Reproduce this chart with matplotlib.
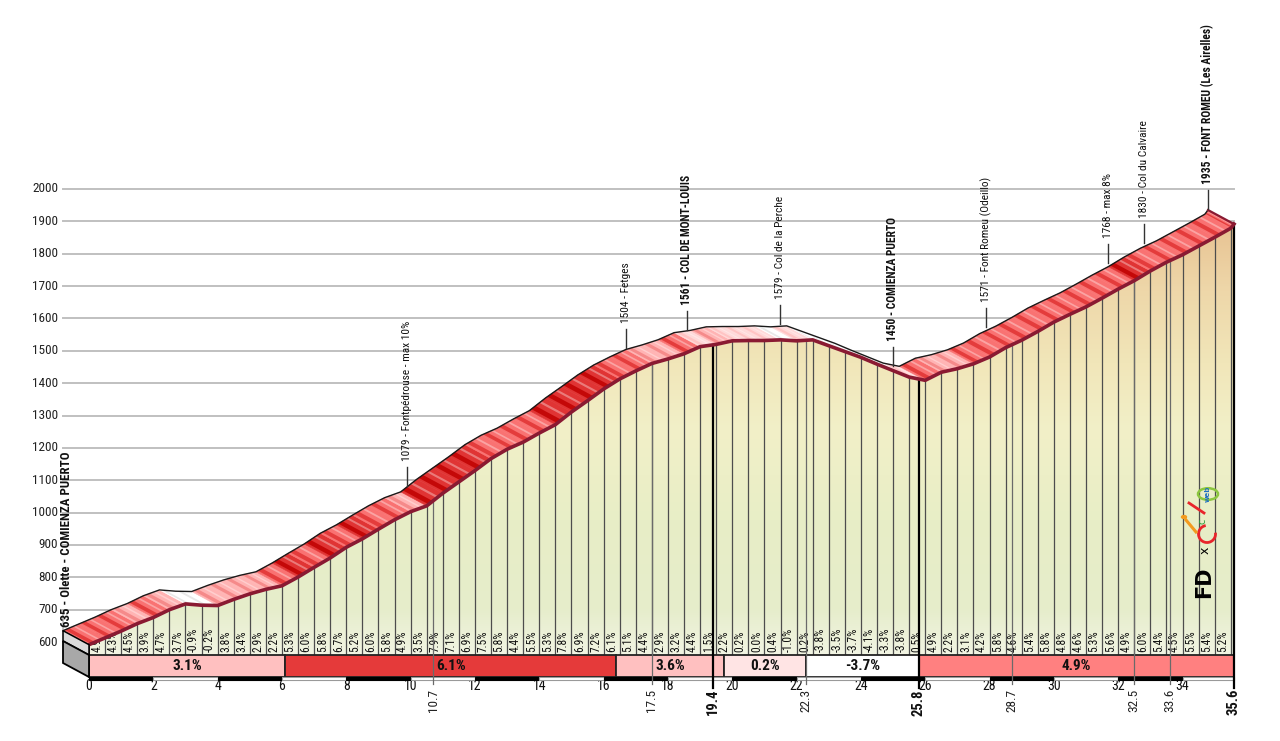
import numpy as np
import matplotlib
matplotlib.use('Agg')
import matplotlib.pyplot as plt
from matplotlib import font_manager as fm
from matplotlib.patches import Polygon, Rectangle, Circle, Arc
from matplotlib.colors import LinearSegmentedColormap
from matplotlib.lines import Line2D

# ---------------- data ----------------
km = list(np.arange(0, 35.51, 0.5)) + [35.6]
elev = [635, 656, 677, 700, 719, 743, 761, 757, 756, 775, 792, 806,
        817, 844, 874, 903, 936, 962, 992, 1021, 1046, 1064, 1103, 1138,
        1173, 1210, 1239, 1261, 1289, 1315, 1354, 1389, 1425, 1456, 1481, 1504,
        1518, 1534, 1556, 1563, 1574, 1575, 1575, 1577, 1574, 1577, 1559, 1541,
        1523, 1502, 1482, 1462, 1452, 1477, 1488, 1503, 1524, 1553, 1576, 1603,
        1632, 1656, 1679, 1706, 1734, 1760, 1790, 1817, 1840, 1867, 1894, 1922,
        1935]
grades = [4.9, 4.3, 4.5, 3.9, 4.7, 3.7, -0.9, -0.2, 3.8, 3.4, 2.9, 2.2,
          5.3, 6.0, 5.8, 6.7, 5.2, 6.0, 5.8, 4.9, 3.5, 7.9, 7.1, 6.9,
          7.5, 5.8, 4.4, 5.5, 5.3, 7.8, 6.9, 7.2, 6.1, 5.1, 4.4, 2.9,
          3.2, 4.4, 1.5, 2.2, 0.2, 0.0, 0.4, -1.0, 0.2, -3.8, -3.5, -3.7,
          -4.1, -3.3, -3.8, 0.5, 4.9, 2.2, 3.1, 4.2, 5.8, 4.6, 5.4, 5.8,
          4.8, 4.6, 5.3, 5.6, 4.9, 6.0, 5.4, 4.5, 5.5, 5.4, 5.2]
sect_bounds = [0, 6.1, 16.4, 19.75, 22.3, 25.8, 35.6]
sect_grades = [3.1, 6.1, 3.6, 0.2, -3.7, 4.9]
xticks = [0, 2, 4, 6, 8, 10, 12, 14, 16, 18, 20, 22, 24, 26, 28, 30, 32, 34]
yticks = [600, 700, 800, 900, 1000, 1100, 1200, 1300, 1400, 1500, 1600, 1700, 1800, 1900, 2000]
mark_km = [10.7, 17.5, 19.4, 22.3, 25.8, 28.7, 32.5, 33.6, 35.6]
mark_bold = [False, False, True, False, True, False, False, False, True]
ann_km = [0, 10.7, 17.5, 19.4, 22.3, 25.8, 28.7, 32.5, 33.6, 35.6]
ann_elev = [635, 1079, 1504, 1561, 1579, 1450, 1571, 1768, 1830, 1935]
ann_text = ["635 - Olette - COMIENZA PUERTO", "1079 - Fontpédrouse - max 10%",
            "1504 - Fetges", "1561 - COL DE MONT-LOUIS", "1579 - Col de la Perche",
            "1450 - COMIENZA PUERTO", "1571 - Font Romeu (Odeillo)", "1768 - max 8%",
            "1830 - Col du Calvaire", "1935 - FONT ROMEU (Les Airelles)"]
ann_bold = [True, False, False, True, False, True, False, False, False, True]

km = np.array(km)
elev = np.array(elev, dtype=float)

# ---------------- fonts ----------------
names = {f.name for f in fm.fontManager.ttflist}
STRETCH = 'normal'
FONT = None
for cand in ['Liberation Sans Narrow', 'Roboto Condensed', 'Open Sans Condensed', 'DejaVu Sans Condensed']:
    if cand in names:
        FONT = [cand, 'DejaVu Sans']
        break
if FONT is None:
    FONT = ['DejaVu Sans']
    STRETCH = 'condensed'
plt.rcParams['font.family'] = FONT
plt.rcParams['font.stretch'] = STRETCH

# ---------------- layout calibration ----------------
W, H = 1280, 741
PX0, PX1 = 89, 1234          # pixel x of km 0 and km 35.6
PY600, PY2000 = 642, 189     # pixel y (from top) of 600 m and 2000 m
ppk = (PX1 - PX0) / km[-1]
ppm = (PY600 - PY2000) / 1400.0
X0 = -PX0 / ppk
X1 = (W - PX0) / ppk
Y1 = 600 + PY600 / ppm
Y0 = 600 - (H - PY600) / ppm

def ypx(py):
    return 600 - (py - PY600) / ppm

DK = 26 / ppk     # perspective offset (km)
DZ = 14 / ppm     # perspective offset (m)
BASE = ypx(655)
BAR_BOT = ypx(677)
AX_BOT = ypx(680)

fig = plt.figure(figsize=(W / 100, H / 100), dpi=100)
ax = fig.add_axes([0, 0, 1, 1])
ax.axis('off')

front = elev - DZ

def gcol(g):
    if g < 0:
        return '#ffffff'
    if g < 2:
        return '#ffdada'
    if g < 4:
        return '#ffb4b4'
    if g < 6:
        return '#f97272'
    if g < 8:
        return '#e03434'
    return '#c00000'

def gdark(g):
    if g < 0:
        return '#e8e8e8'
    if g < 2:
        return '#ffc4c4'
    if g < 4:
        return '#f58a8a'
    if g < 6:
        return '#e43c3c'
    if g < 8:
        return '#c40808'
    return '#990000'

# gridlines & y labels
for v in yticks:
    ax.plot([-DK, km[-1]], [v, v], color='#c0c0c0', lw=1.4, zorder=1)
    ax.text(-DK - 5 / ppk, v, str(v), ha='right', va='center', fontsize=9.5,
            color='#222222', zorder=1)
ax.plot([-DK, -DK], [elev[0], 700], color='#c0c0c0', lw=1.3, zorder=1)

# fill with vertical colour gradient
fill_cmap = LinearSegmentedColormap.from_list('fill', [
    (0.0, '#f2f5e3'), (0.1, '#e6edcb'), (0.3, '#e8eec6'), (0.5, '#f2f0c8'),
    (0.65, '#f1e6b9'), (0.82, '#eed6a8'), (1.0, '#e6bd8c')])
poly_xy = list(zip(km, front)) + [(km[-1], BASE), (0, BASE)]
clip = Polygon(poly_xy, closed=True, facecolor='none', edgecolor='none', zorder=2)
ax.add_patch(clip)
grad_img = np.linspace(0, 1, 256).reshape(-1, 1)
im = ax.imshow(grad_img, extent=[0, km[-1], BASE, 1950], origin='lower',
               aspect='auto', cmap=fill_cmap, vmin=0, vmax=1, zorder=2)
im.set_clip_path(clip)

# vertical separators
for k, f in zip(km[1:-1], front[1:-1]):
    ax.plot([k, k], [BASE, f], color='#4d4d4d', lw=0.9, zorder=3)
ax.plot([0, 0], [BAR_BOT, front[0]], color='black', lw=1.2, zorder=3)

# percent labels
PCT_Y = ypx(652)
for i, g in enumerate(grades):
    ax.text((km[i] + km[i + 1]) / 2, PCT_Y, f"{g:.1f}%", rotation=90, ha='center',
            va='bottom', fontsize=8.3, color='#111111', zorder=3.5)

# marker lines
for k, b in zip(mark_km, mark_bold):
    ftop = np.interp(k, km, front)
    if b:
        ax.plot([k, k], [ypx(688), ftop], color='black', lw=1.6, zorder=4.5)
        ax.text(k, ypx(689), f"{k:.1f}", rotation=90, ha='center', va='top',
                fontsize=10.5, fontweight='bold', color='#111111')
    else:
        ax.plot([k, k], [ypx(684), ftop], color='#6a6a6a', lw=0.9, zorder=4.5)
        ax.text(k, ypx(689), f"{k:.1f}", rotation=90, ha='center', va='top',
                fontsize=9.5, color='#222222')

# 3D band on top of profile
def lerp(a, b, t):
    return a + (b - a) * t

for i in range(len(km) - 1):
    g = grades[min(i, len(grades) - 1)]
    pts = [(km[i], front[i]), (km[i + 1], front[i + 1]),
           (km[i + 1] - DK, elev[i + 1]), (km[i] - DK, elev[i])]
    ax.add_patch(Polygon(pts, closed=True, facecolor=gcol(g), edgecolor=gcol(g),
                         lw=0.4, zorder=5))
    # darker and lighter stripes across the band for texture
    for (t0, t1, col, al) in [(0.12, 0.38, gdark(g), 1.0), (0.62, 0.74, 'white', 0.35)]:
        x0, x1 = lerp(km[i], km[i + 1], t0), lerp(km[i], km[i + 1], t1)
        e0, e1 = lerp(elev[i], elev[i + 1], t0), lerp(elev[i], elev[i + 1], t1)
        spts = [(x0, e0 - DZ), (x1, e1 - DZ), (x1 - DK, e1), (x0 - DK, e0)]
        ax.add_patch(Polygon(spts, closed=True, facecolor=col, edgecolor='none',
                             alpha=al, zorder=5.1))
ax.plot(km - DK, elev, color='#1a1a1a', lw=1.0, zorder=6)
ax.plot(km, front, color='#8a1a32', lw=2.6, zorder=6, solid_joinstyle='round')
ax.plot([km[-1] - DK, km[-1]], [elev[-1], front[-1]], color='#8a1a32', lw=1.6, zorder=6)

# left 3D face
ax.add_patch(Polygon([(-DK, elev[0]), (0, front[0]), (0, BASE), (-DK, BASE + DZ)],
                     closed=True, facecolor='#dadada', edgecolor='black', lw=1.1, zorder=6))
ax.add_patch(Polygon([(-DK, BASE + DZ), (0, BASE), (0, BAR_BOT), (-DK, BAR_BOT + DZ)],
                     closed=True, facecolor='#a8a8a8', edgecolor='black', lw=1.3, zorder=6))

# section bar
bar_cols = {3.1: '#ffc0c0', 6.1: '#e53a3a', 3.6: '#ffc0c0', 0.2: '#ffe4e4',
            -3.7: '#ffffff', 4.9: '#ff8080'}
for s0, s1, g in zip(sect_bounds[:-1], sect_bounds[1:], sect_grades):
    ax.add_patch(Rectangle((s0, BAR_BOT), s1 - s0, BASE - BAR_BOT, facecolor=bar_cols[g],
                           edgecolor='#222222', lw=1.3, zorder=4))
    ax.text((s0 + s1) / 2, (BASE + BAR_BOT) / 2, f"{g:.1f}%", ha='center', va='center',
            fontsize=11, fontweight='bold', color='#111111', zorder=4.2)

# axis strip
for j, (a, b) in enumerate(zip(xticks, xticks[1:] + [km[-1]])):
    black = (j % 2 == 0)
    ax.add_patch(Rectangle((a, AX_BOT), b - a, BAR_BOT - AX_BOT,
                           facecolor='black' if black else 'white',
                           edgecolor='black' if black else '#9a9a9a', lw=0.8, zorder=4))
for t in xticks:
    ax.text(t, ypx(686), str(t), ha='center', va='center', fontsize=10, color='#111111')

# annotations
for k, e, txt, b in zip(ann_km, ann_elev, ann_text, ann_bold):
    x = k - DK
    fs = 8.3 if b else 8.2
    if k == 0:
        ybot = e + 4 / ppm
        x = x + 3 / ppk
        fs = 9.3
    else:
        ax.plot([x, x], [e + 1 / ppm, e + 20 / ppm], color='#333333', lw=1.0, zorder=6)
        ybot = e + 26 / ppm
    ax.text(x, ybot, txt, rotation=90, ha='center', va='bottom',
            fontsize=fs, fontweight='bold' if b else 'normal',
            color='#111111', zorder=7)

# logo (decoration, figure pixel coordinates)
def fp(px, py):
    return px / W, 1 - py / H
ft = fig.transFigure
fig.text(*fp(1204, 582), "FD", rotation=90, ha='center', va='center', fontsize=15,
         fontweight='bold', family='DejaVu Sans', color='black')
fig.text(*fp(1205, 550), "x", rotation=90, ha='center', va='center', fontsize=9,
         family='DejaVu Sans', color='black')
fig.add_artist(Line2D([fp(1186, 520)[0], fp(1196, 532)[0]], [fp(1186, 520)[1], fp(1196, 532)[1]],
                      transform=ft, color='#f39a1e', lw=2.2))
fig.add_artist(Circle(fp(1184, 517), 2.5 / W, transform=ft, color='#f39a1e'))
fig.add_artist(Arc(fp(1207, 534), 17 / W, 17 / H, theta1=95, theta2=375,
                   transform=ft, color='#e8252b', lw=2))
fig.add_artist(Line2D([fp(1189, 503)[0], fp(1204, 513)[0]], [fp(1189, 503)[1], fp(1204, 513)[1]],
                      transform=ft, color='#e8252b', lw=2))
fig.text(*fp(1203, 521), "c", rotation=90, ha='center', va='center', fontsize=7,
         family='DejaVu Sans', color='#2a9d3a')
fig.add_artist(Circle(fp(1208, 494), 10 / W, transform=ft, facecolor='none',
                      edgecolor='#8cc63f', lw=1.8))
fig.text(*fp(1208, 494), "web", rotation=90, ha='center', va='center', fontsize=5,
         fontweight='bold', family='DejaVu Sans', color='#1f6fc1')

ax.set_xlim(X0, X1)
ax.set_ylim(Y0, Y1)
fig.savefig('out.png', dpi=100, facecolor='white')
